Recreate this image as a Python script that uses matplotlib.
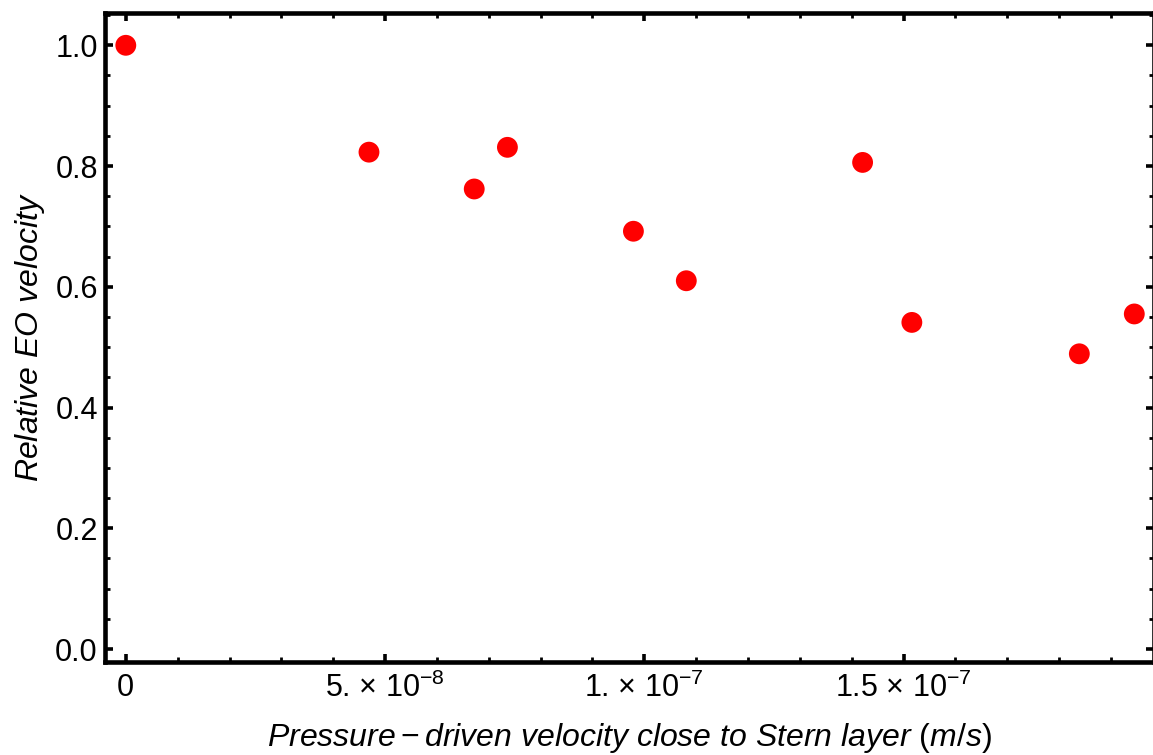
"""
Relative electro-osmotic velocity vs pressure-driven velocity near the Stern layer.
Writes out.png (about 1153x755 px).
"""

import matplotlib

matplotlib.use("Agg")
import matplotlib.pyplot as plt
from matplotlib.ticker import FixedLocator, MultipleLocator

# data
PRESSURE_VEL = [0.0, 4.69e-8, 6.72e-8, 7.36e-8, 9.79e-8, 10.81e-8,
                14.21e-8, 15.16e-8, 18.39e-8, 19.45e-8]
REL_EO_VEL = [1.000, 0.823, 0.762, 0.831, 0.692, 0.610,
              0.806, 0.541, 0.489, 0.555]

X_TICKS = [0.0, 5e-8, 1e-7, 1.5e-7]
X_TICK_LABELS = ["0", "5. \u00d7 10$^{-8}$", "1. \u00d7 10$^{-7}$",
                 "1.5 \u00d7 10$^{-7}$"]
Y_TICKS = [0.0, 0.2, 0.4, 0.6, 0.8, 1.0]
Y_TICK_LABELS = ["0.0", "0.2", "0.4", "0.6", "0.8", "1.0"]

X_LABEL = r"$Pressure-driven\ velocity\ close\ to\ Stern\ layer\ (m/s)$"
Y_LABEL = r"$Relative\ EO\ velocity$"

plt.rcParams["font.family"] = ["Liberation Sans", "DejaVu Sans"]
plt.rcParams["mathtext.fontset"] = "custom"
plt.rcParams["mathtext.rm"] = "Liberation Sans"
plt.rcParams["mathtext.it"] = "Liberation Sans:italic"
plt.rcParams["mathtext.bf"] = "Liberation Sans:bold"

W, H, DPI = 1153, 755, 100
fig = plt.figure(figsize=(W / DPI, H / DPI), dpi=DPI)
ax = fig.add_axes([104.8 / W, 1 - 661.7 / H, (1154 - 104.8) / W, (661.7 - 13.3) / H])

ax.scatter(PRESSURE_VEL, REL_EO_VEL, s=15.0 ** 2, color="#ff0000",
           edgecolors="none", zorder=3, clip_on=False)

ax.set_xlim(-0.405e-8, 19.83e-8)
ax.set_ylim(-0.021, 1.053)

ax.xaxis.set_major_locator(FixedLocator(X_TICKS))
ax.set_xticklabels(X_TICK_LABELS)
ax.xaxis.set_minor_locator(MultipleLocator(1e-8))
ax.yaxis.set_major_locator(FixedLocator(Y_TICKS))
ax.set_yticklabels(Y_TICK_LABELS)
ax.yaxis.set_minor_locator(MultipleLocator(0.05))

for sp in ax.spines.values():
    sp.set_linewidth(3.3)
    sp.set_color("black")

ax.tick_params(which="both", direction="in", top=True, right=True,
               labelsize=22, colors="black")
ax.tick_params(which="major", length=5.5, width=2.6, pad=8)
ax.tick_params(which="minor", length=3.5, width=2.0)
ax.tick_params(axis="y", which="major", pad=5)

ax.set_xlabel(X_LABEL, fontsize=23, labelpad=12)
ax.set_ylabel(Y_LABEL, fontsize=23, labelpad=6)

fig.savefig("out.png", dpi=DPI)
